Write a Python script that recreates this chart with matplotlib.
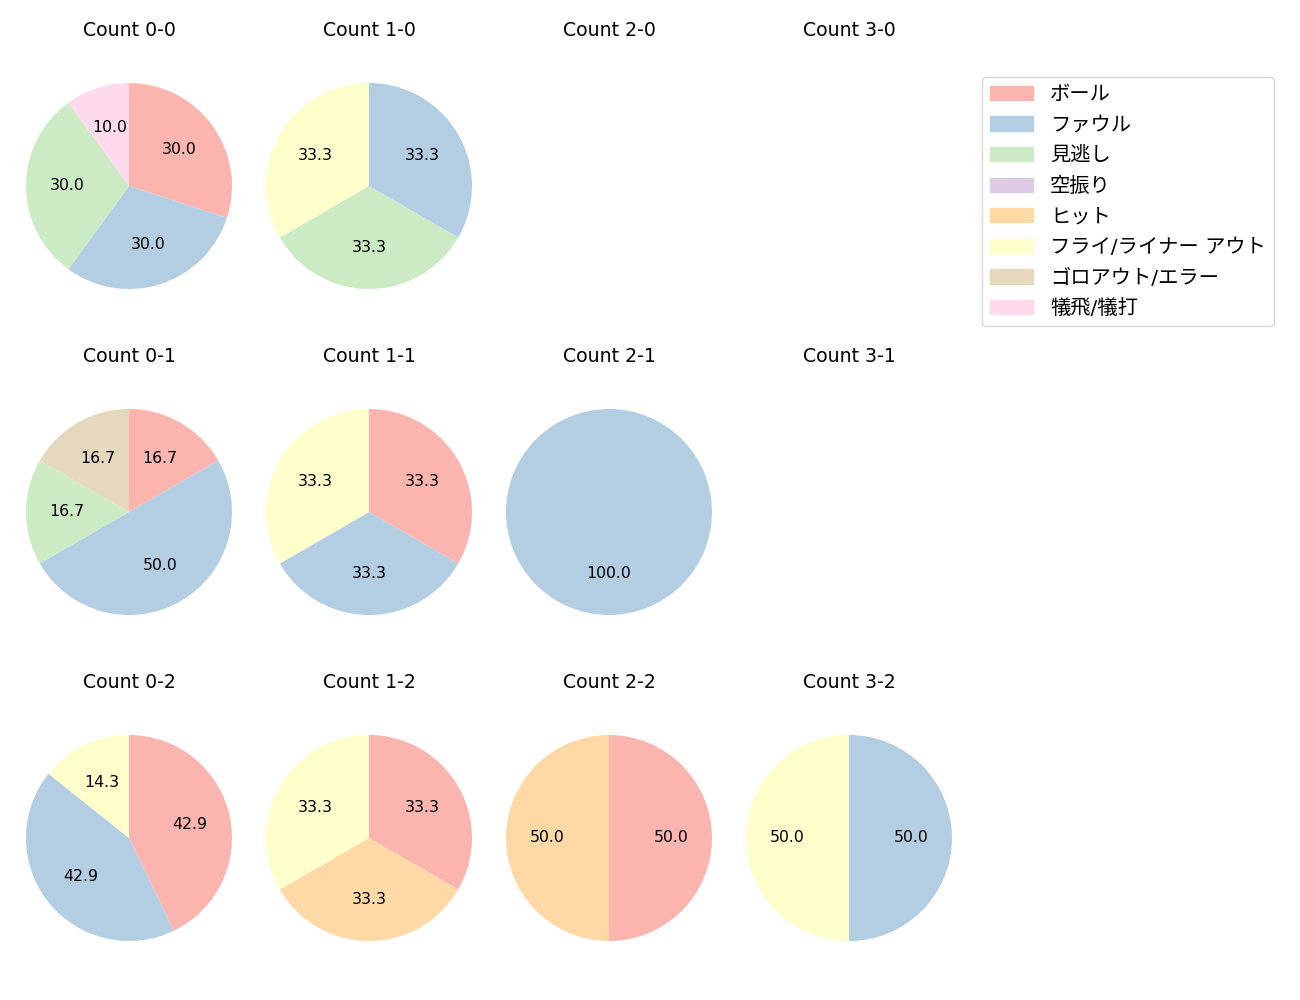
import matplotlib
matplotlib.use("Agg")
import matplotlib.pyplot as plt

plt.rcParams['font.family'] = ['DejaVu Sans', 'Noto Sans CJK JP']

# outcome categories (legend order) and their colours
categories = ["ボール", "ファウル", "見逃し", "空振り", "ヒット",
              "フライ/ライナー アウト", "ゴロアウト/エラー", "犠飛/犠打"]
colors = ["#fbb4ae", "#b3cde3", "#ccebc5", "#decbe4", "#fed9a6",
          "#ffffcc", "#e5d8bd", "#fddaec"]

# counts per ball-strike situation, same order as categories
counts = {
    "0-0": [3, 3, 3, 0, 0, 0, 0, 1],
    "1-0": [0, 1, 1, 0, 0, 1, 0, 0],
    "2-0": [0, 0, 0, 0, 0, 0, 0, 0],
    "3-0": [0, 0, 0, 0, 0, 0, 0, 0],
    "0-1": [1, 3, 1, 0, 0, 0, 1, 0],
    "1-1": [1, 1, 0, 0, 0, 1, 0, 0],
    "2-1": [0, 1, 0, 0, 0, 0, 0, 0],
    "3-1": [0, 0, 0, 0, 0, 0, 0, 0],
    "0-2": [3, 3, 0, 0, 0, 1, 0, 0],
    "1-2": [1, 0, 0, 0, 1, 1, 0, 0],
    "2-2": [1, 0, 0, 0, 1, 0, 0, 0],
    "3-2": [0, 1, 0, 0, 0, 1, 0, 0],
}

fig = plt.figure(figsize=(13, 10), dpi=100)
W, H = 1300, 1000
r = 103  # pie radius in pixels
half = r * 1.1

for row, strikes in enumerate([0, 1, 2]):
    for col, balls in enumerate([0, 1, 2, 3]):
        key = f"{balls}-{strikes}"
        cx = 129 + 240 * col
        cy = 186 + 326 * row
        ax = fig.add_axes([(cx - half) / W, 1 - (cy + half) / H,
                           2 * half / W, 2 * half / H])
        ax.set_title(f"Count {key}", fontsize=13.6, pad=26.5)
        vals = counts[key]
        ax.set_xlim(-1.1, 1.1)
        ax.set_ylim(-1.1, 1.1)
        ax.set_aspect("equal")
        ax.axis("off")
        if sum(vals) == 0:
            continue
        sel = [(v, c) for v, c in zip(vals, colors) if v > 0]
        ax.pie([v for v, _ in sel], colors=[c for _, c in sel],
               startangle=90, counterclock=False, autopct="%.1f",
               textprops={"fontsize": 11.3})
        ax.set_xlim(-1.1, 1.1)
        ax.set_ylim(-1.1, 1.1)

handles = [plt.Rectangle((0, 0), 1, 1, color=c) for c in colors]
fig.legend(handles, categories, loc="upper left",
           bbox_to_anchor=(982 / W, 1 - 77 / H), fontsize=14.6,
           handlelength=2.1, handletextpad=0.85, labelspacing=0.57,
           borderpad=0.4, borderaxespad=0, frameon=True)

fig.savefig("out.png", dpi=100)
